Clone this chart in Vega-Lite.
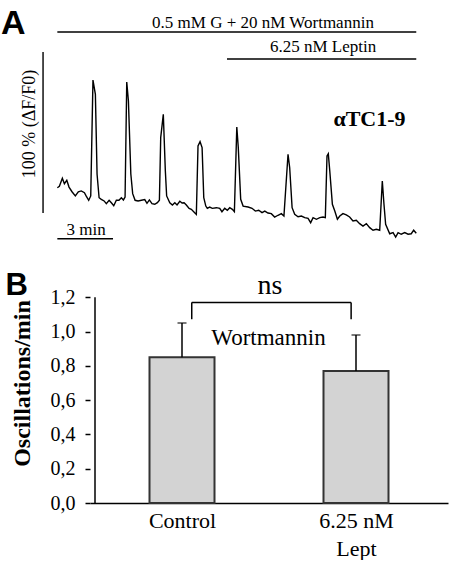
{
  "$schema": "https://vega.github.io/schema/vega-lite/v6.json",
  "background": "white",
  "padding": 0,
  "spacing": 5,
  "config": {"view": {"stroke": "transparent"}, "font": "Liberation Serif", "text": {"color": "black"}},
  "vconcat": [
    {
      "width": 358,
      "height": 255,
      "layer": [
        {
          "data": {"values": [
            {"t": 0, "v": 15.7}, {"t": 0.11, "v": 16.6}, {"t": 0.27, "v": 21.6}, {"t": 0.38, "v": 18.2}, {"t": 0.51, "v": 20.3},
            {"t": 0.63, "v": 16.1}, {"t": 0.79, "v": 13.2}, {"t": 0.97, "v": 10.6}, {"t": 1.13, "v": 13.2}, {"t": 1.29, "v": 13.7},
            {"t": 1.46, "v": 12.6}, {"t": 1.55, "v": 10.6}, {"t": 1.69, "v": 7.9}, {"t": 1.8, "v": 10.6}, {"t": 1.92, "v": 82.6},
            {"t": 2.05, "v": 73.7}, {"t": 2.14, "v": 24.2}, {"t": 2.25, "v": 9.5}, {"t": 2.37, "v": 8.5}, {"t": 2.52, "v": 7.5},
            {"t": 2.64, "v": 5.8}, {"t": 2.79, "v": 7.9}, {"t": 2.91, "v": 6.4}, {"t": 3.04, "v": 4.5}, {"t": 3.18, "v": 7.9},
            {"t": 3.32, "v": 7.9}, {"t": 3.45, "v": 9.5}, {"t": 3.56, "v": 8.1}, {"t": 3.65, "v": 9.9}, {"t": 3.74, "v": 81.4},
            {"t": 3.83, "v": 69.6}, {"t": 3.96, "v": 24.2}, {"t": 4.06, "v": 12.0}, {"t": 4.19, "v": 7.9}, {"t": 4.35, "v": 7.5},
            {"t": 4.53, "v": 7.9}, {"t": 4.71, "v": 8.3}, {"t": 4.83, "v": 6.0}, {"t": 4.96, "v": 8.1}, {"t": 5.1, "v": 5.8},
            {"t": 5.25, "v": 5.4}, {"t": 5.39, "v": 6.4}, {"t": 5.5, "v": 7.9}, {"t": 5.57, "v": 46.8}, {"t": 5.71, "v": 61.3},
            {"t": 5.82, "v": 26.1}, {"t": 5.89, "v": 10.6}, {"t": 6.06, "v": 6.4}, {"t": 6.2, "v": 5.0}, {"t": 6.33, "v": 6.4},
            {"t": 6.45, "v": 5.0}, {"t": 6.6, "v": 7.3}, {"t": 6.72, "v": 6.2}, {"t": 6.83, "v": 6.4}, {"t": 6.95, "v": 5.0},
            {"t": 7.1, "v": 2.9}, {"t": 7.22, "v": 2.3}, {"t": 7.4, "v": 0.2}, {"t": 7.49, "v": -0.8}, {"t": 7.58, "v": 41.6},
            {"t": 7.69, "v": 44.3}, {"t": 7.8, "v": 40.6}, {"t": 7.89, "v": 9.5}, {"t": 8.0, "v": 4.3}, {"t": 8.08, "v": 2.9},
            {"t": 8.21, "v": 3.7}, {"t": 8.35, "v": 2.9}, {"t": 8.57, "v": 3.3}, {"t": 8.75, "v": 2.9}, {"t": 8.87, "v": 0.8},
            {"t": 9.02, "v": 2.9}, {"t": 9.16, "v": 1.7}, {"t": 9.29, "v": 3.3}, {"t": 9.43, "v": 2.3}, {"t": 9.54, "v": 0.8},
            {"t": 9.67, "v": 53.4}, {"t": 9.75, "v": 40.6}, {"t": 9.88, "v": 8.5}, {"t": 10.01, "v": 4.3}, {"t": 10.28, "v": 3.7},
            {"t": 10.49, "v": 2.9}, {"t": 10.67, "v": 1.2}, {"t": 10.85, "v": 1.7}, {"t": 11.03, "v": 0.2}, {"t": 11.18, "v": 1.2},
            {"t": 11.35, "v": 0}, {"t": 11.53, "v": -0.4}, {"t": 11.71, "v": -2.5}, {"t": 11.89, "v": -1.4}, {"t": 12.07, "v": -0.4},
            {"t": 12.21, "v": -1.9}, {"t": 12.43, "v": 36.5}, {"t": 12.52, "v": 28.1}, {"t": 12.65, "v": 3.3}, {"t": 12.79, "v": -0.8},
            {"t": 12.97, "v": -2.3}, {"t": 13.15, "v": -1.9}, {"t": 13.33, "v": -2.9}, {"t": 13.51, "v": -3.3}, {"t": 13.65, "v": -6.0},
            {"t": 13.78, "v": -2.9}, {"t": 13.96, "v": -3.9}, {"t": 14.14, "v": -2.9}, {"t": 14.32, "v": -2.5}, {"t": 14.44, "v": -2.9},
            {"t": 14.53, "v": 35.4}, {"t": 14.6, "v": 36.8}, {"t": 14.68, "v": 26.1}, {"t": 14.82, "v": 5.4}, {"t": 14.95, "v": 1.2},
            {"t": 15.09, "v": -3.9}, {"t": 15.22, "v": -1.9}, {"t": 15.39, "v": -0.4}, {"t": 15.57, "v": -1.2}, {"t": 15.75, "v": -2.5},
            {"t": 15.93, "v": -5.0}, {"t": 16.11, "v": -4.5}, {"t": 16.29, "v": -6.6}, {"t": 16.47, "v": -8.1}, {"t": 16.65, "v": -6.6},
            {"t": 16.83, "v": -9.1}, {"t": 17.01, "v": -10.7}, {"t": 17.19, "v": -10.1}, {"t": 17.37, "v": -10.7}, {"t": 17.51, "v": 19.9},
            {"t": 17.6, "v": 5.4}, {"t": 17.69, "v": -7.0}, {"t": 17.91, "v": -12.9}, {"t": 18.09, "v": -12.2}, {"t": 18.23, "v": -14.9},
            {"t": 18.36, "v": -12.2}, {"t": 18.53, "v": -13.2}, {"t": 18.72, "v": -12.2}, {"t": 18.9, "v": -13.2}, {"t": 19.07, "v": -12.9},
            {"t": 19.2, "v": -10.7}, {"t": 19.34, "v": -12.6}
          ]},
          "mark": {"type": "line", "color": "black", "strokeWidth": 1.4},
          "encoding": {
            "x": {"field": "t", "type": "quantitative", "scale": {"domain": [1.76, 21.05], "nice": false, "zero": false}, "axis": null},
            "y": {"field": "v", "type": "quantitative", "scale": {"domain": [-26.71, 131.68], "nice": false, "zero": false}, "axis": null}
          }
        },
        {
          "data": {"values": [
            {"treatment": "0.5 mM G + 20 nM Wortmannin", "start": 0, "end": 19.34, "level": 112.4},
            {"treatment": "6.25 nM Leptin", "start": 9.14, "end": 19.34, "level": 95.65}
          ]},
          "mark": {"type": "rule", "color": "black", "strokeWidth": 1.4},
          "encoding": {
            "x": {"field": "start", "type": "quantitative"},
            "x2": {"field": "end"},
            "y": {"field": "level", "type": "quantitative"}
          }
        },
        {
          "data": {"values": [
            {"bar": "100 %", "t": -0.77, "t2": -0.77, "v": 0, "v2": 100},
            {"bar": "3 min", "t": 0, "t2": 3, "v": -16, "v2": -16}
          ]},
          "mark": {"type": "rule", "color": "black", "strokeWidth": 1.4},
          "encoding": {
            "x": {"field": "t", "type": "quantitative"},
            "x2": {"field": "t2"},
            "y": {"field": "v", "type": "quantitative"},
            "y2": {"field": "v2"}
          }
        },
        {
          "data": {"values": [
            {"label": "0.5 mM G + 20 nM Wortmannin", "t": 11.08, "v": 114.7},
            {"label": "6.25 nM Leptin", "t": 14.32, "v": 100.2},
            {"label": "3 min", "t": 1.55, "v": -13.7}
          ]},
          "mark": {"type": "text", "font": "Liberation Serif", "fontSize": 17, "align": "center", "baseline": "alphabetic", "color": "black"},
          "encoding": {
            "x": {"field": "t", "type": "quantitative"},
            "y": {"field": "v", "type": "quantitative"},
            "text": {"field": "label"}
          }
        },
        {
          "data": {"values": [{"label": "100 % (ΔF/F0)", "t": -1.47, "v": 55.3}]},
          "mark": {"type": "text", "font": "Liberation Serif", "fontSize": 18, "angle": 270, "align": "center", "baseline": "middle", "color": "black"},
          "encoding": {
            "x": {"field": "t", "type": "quantitative"},
            "y": {"field": "v", "type": "quantitative"},
            "text": {"field": "label"}
          }
        },
        {
          "data": {"values": [{"label": "αTC1-9", "t": 16.82, "v": 54.0}]},
          "mark": {"type": "text", "font": "Liberation Serif", "fontSize": 22, "fontWeight": "bold", "align": "center", "baseline": "alphabetic", "color": "black"},
          "encoding": {
            "x": {"field": "t", "type": "quantitative"},
            "y": {"field": "v", "type": "quantitative"},
            "text": {"field": "label"}
          }
        },
        {
          "data": {"values": [{"label": "A", "t": -3.03, "v": 111.2}]},
          "mark": {"type": "text", "font": "Liberation Sans", "fontSize": 34, "fontWeight": "bold", "align": "left", "baseline": "alphabetic", "color": "black"},
          "encoding": {
            "x": {"field": "t", "type": "quantitative"},
            "y": {"field": "v", "type": "quantitative"},
            "text": {"field": "label"}
          }
        }
      ]
    },
    {
      "width": 358,
      "height": 240,
      "layer": [
        {
          "data": {"values": [
            {"condition": "Control", "pos": 1, "mean": 0.85, "upper": 1.05},
            {"condition": "6.25 nM Lept", "pos": 2, "mean": 0.77, "upper": 0.98}
          ]},
          "layer": [
            {
              "mark": {"type": "bar", "width": 65, "orient": "vertical", "fill": "#d3d3d3", "stroke": "#333333", "strokeWidth": 2},
              "encoding": {
                "x": {
                  "field": "pos", "type": "quantitative",
                  "scale": {"domain": [0.5, 2.5], "nice": false, "zero": false},
                  "axis": {
                    "values": [1, 2],
                    "tickCount": 10,
                    "labelExpr": "datum.value == 1 ? 'Control' : ['6.25 nM', 'Lept']",
                    "ticks": false, "grid": false, "title": null,
                    "domain": true, "domainColor": "black", "domainWidth": 1.5,
                    "labelFont": "Liberation Serif", "labelFontSize": 22, "labelColor": "black",
                    "labelPadding": 7, "labelLineHeight": 28, "labelFlush": false, "labelOverlap": false
                  }
                },
                "y": {
                  "field": "mean", "type": "quantitative",
                  "scale": {"domain": [0, 1.4], "nice": false},
                  "axis": {
                    "values": [0, 0.2, 0.4, 0.6, 0.8, 1, 1.2],
                    "tickCount": 10,
                    "labelExpr": "replace(format(datum.value, '.1f'), '.', ',')",
                    "labelOverlap": false,
                    "domain": false, "grid": false,
                    "tickSize": 5, "tickColor": "black", "tickWidth": 1.5,
                    "labelFont": "Liberation Serif", "labelFontSize": 20, "labelColor": "black", "labelPadding": 10,
                    "title": "Oscillations/min", "titleFont": "Liberation Serif", "titleFontSize": 24,
                    "titleFontWeight": "bold", "titleColor": "black", "titlePadding": 16
                  }
                },
                "y2": {"datum": 0}
              }
            },
            {
              "mark": {"type": "rule", "color": "black", "strokeWidth": 1.5},
              "encoding": {
                "x": {"field": "pos", "type": "quantitative"},
                "y": {"field": "mean", "type": "quantitative"},
                "y2": {"field": "upper"}
              }
            },
            {
              "mark": {"type": "tick", "orient": "horizontal", "size": 9, "thickness": 1.5, "color": "black"},
              "encoding": {
                "x": {"field": "pos", "type": "quantitative"},
                "y": {"field": "upper", "type": "quantitative"}
              }
            }
          ]
        },
        {
          "data": {"values": [{"axis": "y"}]},
          "mark": {"type": "rule", "color": "black", "strokeWidth": 1.5},
          "encoding": {
            "x": {"datum": 0.5, "type": "quantitative"},
            "y": {"datum": 0, "type": "quantitative"},
            "y2": {"datum": 1.2}
          }
        },
        {
          "data": {"values": [{"from": 1.056, "to": 1.972, "top": 1.17, "foot": 1.072}]},
          "layer": [
            {
              "mark": {"type": "rule", "color": "black", "strokeWidth": 1.5},
              "encoding": {
                "x": {"field": "from", "type": "quantitative"},
                "x2": {"field": "to"},
                "y": {"field": "top", "type": "quantitative"}
              }
            },
            {
              "mark": {"type": "rule", "color": "black", "strokeWidth": 1.5},
              "encoding": {
                "x": {"field": "from", "type": "quantitative"},
                "y": {"field": "foot", "type": "quantitative"},
                "y2": {"field": "top"}
              }
            },
            {
              "mark": {"type": "rule", "color": "black", "strokeWidth": 1.5},
              "encoding": {
                "x": {"field": "to", "type": "quantitative"},
                "y": {"field": "foot", "type": "quantitative"},
                "y2": {"field": "top"}
              }
            }
          ]
        },
        {
          "data": {"values": [{"label": "ns", "pos": 1.506, "y": 1.219}]},
          "mark": {"type": "text", "font": "Liberation Serif", "fontSize": 28, "align": "center", "baseline": "alphabetic", "color": "black"},
          "encoding": {
            "x": {"field": "pos", "type": "quantitative"},
            "y": {"field": "y", "type": "quantitative"},
            "text": {"field": "label"}
          }
        },
        {
          "data": {"values": [{"label": "Wortmannin", "pos": 1.497, "y": 0.922}]},
          "mark": {"type": "text", "font": "Liberation Serif", "fontSize": 23, "align": "center", "baseline": "alphabetic", "color": "black"},
          "encoding": {
            "x": {"field": "pos", "type": "quantitative"},
            "y": {"field": "y", "type": "quantitative"},
            "text": {"field": "label"}
          }
        },
        {
          "data": {"values": [{"label": "B", "pos": -0.014, "y": 1.213}]},
          "mark": {"type": "text", "font": "Liberation Sans", "fontSize": 31, "fontWeight": "bold", "align": "left", "baseline": "alphabetic", "color": "black"},
          "encoding": {
            "x": {"field": "pos", "type": "quantitative"},
            "y": {"field": "y", "type": "quantitative"},
            "text": {"field": "label"}
          }
        }
      ]
    }
  ]
}
